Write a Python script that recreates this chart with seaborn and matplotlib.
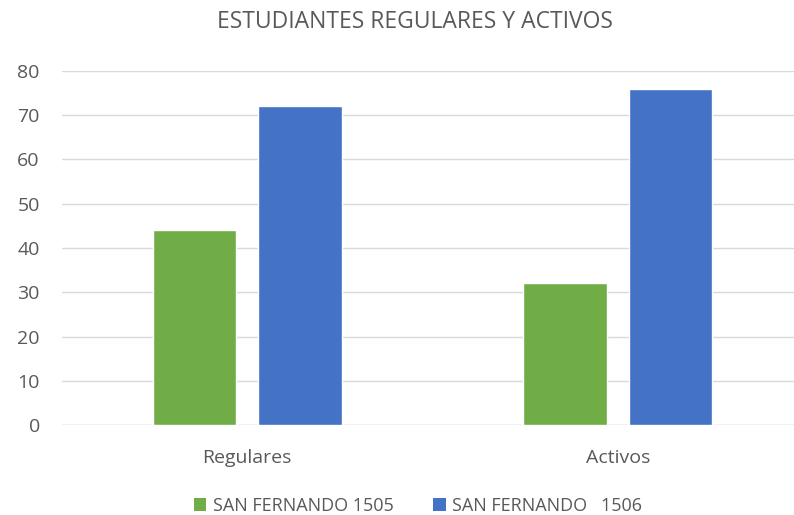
import pandas as pd
import matplotlib
matplotlib.use("Agg")
import matplotlib.pyplot as plt
import seaborn as sns
from matplotlib.patches import Patch

categorias = ["Regulares", "Activos"]
series = ["SAN FERNANDO 1505", "SAN FERNANDO   1506"]
valores_1505 = [44, 32]
valores_1506 = [72, 76]
colores = ["#70AD47", "#4472C4"]
titulo = "ESTUDIANTES REGULARES Y ACTIVOS"

df = pd.DataFrame({
    "categoria": categorias * 2,
    "serie": [series[0]] * 2 + [series[1]] * 2,
    "valor": valores_1505 + valores_1506,
})

sns.set_style("white")
plt.rcParams['font.family'] = ['Open Sans', 'DejaVu Sans']
gris = "#595959"

fig = plt.figure(figsize=(7.94, 5.15), dpi=100)
ax = fig.add_axes([62 / 794, 90 / 515, 741 / 794, 354 / 515])

sns.barplot(data=df, x="categoria", y="valor", hue="serie",
            order=categorias, hue_order=series, palette=colores,
            width=0.57, gap=0.21, saturation=1, ax=ax, legend=False,
            zorder=3)

ax.set_ylim(0, 80)
ax.set_xlim(-0.5, 1.5)
ax.set_yticks(range(0, 81, 10))
ax.yaxis.grid(True, color="#D9D9D9", linewidth=1.0, zorder=0)
ax.set_axisbelow(True)
for s in ax.spines.values():
    s.set_visible(False)
ax.axhline(0, color="#D9D9D9", linewidth=1.0, zorder=1)
ax.set_xlabel("")
ax.set_ylabel("")
ax.tick_params(axis="y", length=0, pad=16, labelsize=14, labelcolor=gris)
ax.tick_params(axis="x", length=0, pad=17, labelsize=14, labelcolor=gris)

fig.text(415 / 794, 1 - 22 / 515, titulo, ha="center", va="center",
         fontsize=16.5, color=gris)

handles = [Patch(facecolor=c, edgecolor="none") for c in colores]
fig.legend(handles, series, loc="center", bbox_to_anchor=(418 / 794, 1 - 506 / 515),
           ncol=2, frameon=False, fontsize=13, labelcolor=gris,
           handlelength=0.7, handleheight=0.7, handletextpad=0.35,
           columnspacing=2.2)

plt.savefig("out.png", dpi=100)
